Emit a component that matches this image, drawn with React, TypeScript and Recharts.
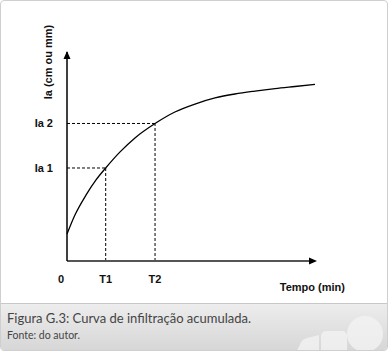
import React from "react";
import {
  LineChart,
  Line,
  XAxis,
  YAxis,
  ReferenceLine,
  Label,
} from "recharts";

// curve (tempo vs infiltração acumulada, arbitrary units 0-100)
const tempo = [0, 3.2, 7.7, 11.7, 15.6, 21.4, 27.4, 35.5, 43.5, 51.6, 59.7, 67.7, 75.8, 83.9, 91.9, 100];
const infiltracao = [12.9, 22.0, 31.6, 38.8, 44.5, 52.2, 58.9, 65.8, 71.3, 75.1, 78.0, 79.9, 81.3, 82.5, 83.5, 84.5];

const xTickValues = [0, 15.6, 35.5];
const xTickLabels = ["0", "T1", "T2"];
const yTickValues = [44.5, 65.8];
const yTickLabels = ["Ia 1", "Ia 2"];
const axisMax = 100;

const data = tempo.map((t, i) => ({ t, ia: infiltracao[i] }));

const tickFont = {
  fontFamily: "'Liberation Sans', Arial, sans-serif",
  fontSize: 11,
  fontWeight: 700,
  fill: "#111",
};

function XTick({ x, y, payload }: any) {
  const i = xTickValues.indexOf(payload.value);
  const dx = payload.value === 0 ? -6 : 0;
  return (
    <text x={x + dx} y={y + 14} textAnchor="middle" {...tickFont}>
      {xTickLabels[i]}
    </text>
  );
}

function YTick({ x, y, payload }: any) {
  const i = yTickValues.indexOf(payload.value);
  return (
    <text x={x - 6} y={y + 4} textAnchor="end" {...tickFont}>
      {yTickLabels[i]}
    </text>
  );
}

// arrow heads drawn at the axis ends, from the axis viewBox
function YArrow(props: any) {
  const vb = props.viewBox;
  const cx = vb.x + vb.width;
  const cy = vb.y;
  return (
    <polygon
      points={`${cx},${cy - 1} ${cx - 3.5},${cy + 7} ${cx + 3.5},${cy + 7}`}
      fill="#000"
      stroke="none"
    />
  );
}
function XArrow(props: any) {
  const vb = props.viewBox;
  const cx = vb.x + vb.width;
  const cy = vb.y;
  return (
    <polygon
      points={`${cx + 2},${cy} ${cx - 6},${cy - 3.5} ${cx - 6},${cy + 3.5}`}
      fill="#000"
      stroke="none"
    />
  );
}

function YTitle(props: any) {
  const vb = props.viewBox;
  const x = vb.x + vb.width - 15;
  return (
    <text x={x} y={62} transform={`rotate(-90, ${x}, 62)`} textAnchor="middle" {...tickFont}>
      Ia (cm ou mm)
    </text>
  );
}

export default function App() {
  const [t1, t2] = [xTickValues[1], xTickValues[2]];
  const [ia1, ia2] = yTickValues;
  return (
    <div
      style={{
        position: "absolute",
        left: 0,
        top: 0,
        width: 386,
        height: 349,
        border: "1px solid #cfcfcf",
        borderRadius: 4,
        background: "#fff",
        overflow: "hidden",
      }}
    >
      <LineChart
        width={388}
        height={300}
        data={data}
        margin={{ top: 52, right: 73, left: 7, bottom: 9 }}
        style={{ position: "absolute", left: -1, top: -1 }}
      >
        <XAxis
          dataKey="t"
          type="number"
          domain={[0, axisMax]}
          ticks={xTickValues}
          tick={<XTick />}
          tickLine={false}
          axisLine={{ stroke: "#555", strokeWidth: 2 }}
          height={30}
        >
          <Label
            value="Tempo (min)"
            position="insideBottomRight"
            offset={0}
            dx={30}
            dy={0}
            style={{ ...tickFont, textAnchor: "end" }}
          />
          <Label content={(p: any) => <XArrow {...p} />} />
        </XAxis>
        <YAxis
          type="number"
          domain={[0, axisMax]}
          ticks={yTickValues}
          tick={<YTick />}
          tickLine={false}
          axisLine={{ stroke: "#000", strokeWidth: 1.5 }}
          width={60}
        >
          <Label content={(p: any) => <YTitle {...p} />} />
          <Label content={(p: any) => <YArrow {...p} />} />
        </YAxis>
        <ReferenceLine
          segment={[{ x: 0, y: ia1 }, { x: t1, y: ia1 }]}
          stroke="#000"
          strokeDasharray="3 2"
        />
        <ReferenceLine
          segment={[{ x: t1, y: 0 }, { x: t1, y: ia1 }]}
          stroke="#000"
          strokeDasharray="3 2"
        />
        <ReferenceLine
          segment={[{ x: 0, y: ia2 }, { x: t2, y: ia2 }]}
          stroke="#000"
          strokeDasharray="3 2"
        />
        <ReferenceLine
          segment={[{ x: t2, y: 0 }, { x: t2, y: ia2 }]}
          stroke="#000"
          strokeDasharray="3 2"
        />
        <Line
          dataKey="ia"
          type="monotone"
          stroke="#000"
          strokeWidth={1.3}
          dot={false}
          isAnimationActive={false}
        />
      </LineChart>
      <div
        style={{
          position: "absolute",
          left: 0,
          top: 302,
          width: 386,
          height: 47,
          borderTop: "1px solid #c8c8c8",
          background: "linear-gradient(#ededed, #d6d6d6)",
          overflow: "hidden",
        }}
      >
        <svg width={386} height={47} style={{ position: "absolute", left: 0, top: 0 }}>
          <path d="M296,47 L300,38 Q302,35 306,34 L318,31 L318,47 z" fill="#f3f3f3" opacity={0.8} />
          <rect x={320} y={27} width={26} height={30} rx={5} fill="#f3f3f3" opacity={0.8} />
          <circle cx={364} cy={30} r={18} fill="#f3f3f3" opacity={0.8} />
        </svg>
        <div
          style={{
            position: "absolute",
            left: 6,
            top: 6,
            fontFamily: "Lato, sans-serif",
            fontSize: 13,
            color: "#444",
            whiteSpace: "nowrap",
          }}
        >
          Figura G.3: Curva de infiltração acumulada.
        </div>
        <div
          style={{
            position: "absolute",
            left: 6,
            top: 25,
            fontFamily: "Lato, sans-serif",
            fontSize: 10.5,
            color: "#444",
            whiteSpace: "nowrap",
          }}
        >
          Fonte: do autor.
        </div>
      </div>
    </div>
  );
}
